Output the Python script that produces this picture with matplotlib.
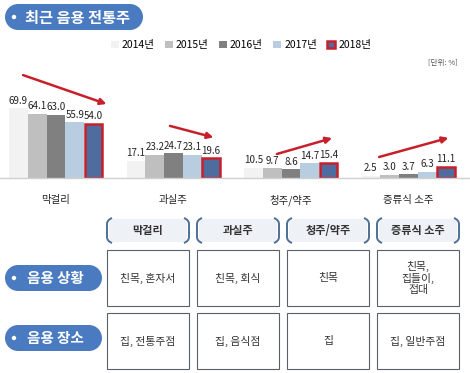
import matplotlib.pyplot as plt
from matplotlib.patches import FancyBboxPatch, Rectangle, Circle
from matplotlib.path import Path
from matplotlib.patches import PathPatch
import numpy as np

plt.rcParams['font.family'] = ['Noto Sans CJK KR', 'DejaVu Sans']

# data
years = ['2014년', '2015년', '2016년', '2017년', '2018년']
categories = ['막걸리', '과실주', '청주/약주', '증류식 소주']
values = {
    '2014년': [69.9, 17.1, 10.5, 2.5],
    '2015년': [64.1, 23.2, 9.7, 3.0],
    '2016년': [63.0, 24.7, 8.6, 3.7],
    '2017년': [55.9, 23.1, 14.7, 6.3],
    '2018년': [54.0, 19.6, 15.4, 11.1],
}
situations = ['친목, 혼자서', '친목, 회식', '친목', '친목,\n집들이,\n접대']
places = ['집, 전통주점', '집, 음식점', '집', '집, 일반주점']
row_labels = ['음용 상황', '음용 장소']

colors = ['#F2F2F2', '#BFBFBF', '#808080', '#B9CDE0', '#4E6C9E']
blue = '#4A7BC0'
red = '#C8202B'

W, H = 470, 373
fig = plt.figure(figsize=(W / 100, H / 100), dpi=100)

# bar chart axes (pixel frame: baseline y=178, top y=70)
ax = fig.add_axes([0, (H - 178) / H, 1, 108 / H])
gap = 117.5
ax.set_xlim(-56 / gap, (W - 56) / gap)
ax.set_ylim(0, 108)
bw = 18.8 / gap
x = np.arange(len(categories))
handles = []
for j, yr in enumerate(years):
    xs = x + (j - 2) * bw
    if j == 4:
        b = ax.bar(xs, values[yr], bw * 0.92, color=colors[j], edgecolor=red,
                   linewidth=1.8, label=yr)
    else:
        b = ax.bar(xs, values[yr], bw, color=colors[j], label=yr)
    handles.append(b)
    for xi, v in zip(xs, values[yr]):
        ax.text(xi, v + 2.5, f'{v:.1f}', ha='center', va='bottom', fontsize=7,
                color='#222222')

# trend arrows: (x start, rise above first bar, x end, rise above last bar)
arrows = [(-0.28, 33, 0.43, 20), (-0.03, 35, 0.34, 21),
          (-0.12, 13.5, 0.35, 24.5), (-0.25, 18.5, 0.34, 29)]
for i, (xs0, s, xe, e) in enumerate(arrows):
    y0 = values['2014년'][i] + s
    y1 = values['2018년'][i] + e
    ax.annotate('', xy=(i + xe, y1), xytext=(i + xs0, y0),
                arrowprops=dict(arrowstyle='-|>', color=red, lw=1.8,
                                mutation_scale=9, shrinkA=0, shrinkB=0))

ax.set_xticks(x)
ax.set_xticklabels(categories, fontsize=7.5, color='#222222')
ax.tick_params(axis='x', length=0, pad=12)
ax.set_yticks([])
for s in ['top', 'left', 'right']:
    ax.spines[s].set_visible(False)
ax.spines['bottom'].set_color('#D0D0D0')
ax.spines['bottom'].set_linewidth(1)
ax.patch.set_alpha(0)

fig.legend(handles=handles, labels=years, loc='center', ncol=5,
           bbox_to_anchor=(241 / W, 1 - 45 / H), frameon=False, fontsize=7.5,
           handlelength=0.75, handleheight=0.75, handletextpad=0.3,
           columnspacing=1.0, borderpad=0)
fig.text(458 / W, 1 - 63 / H, '[단위: %]', ha='right', va='center',
         fontsize=5.5, color='#555555')

# overlay axes in pixel coords for the title and table part
ov = fig.add_axes([0, 0, 1, 1], zorder=-1)
ov.set_xlim(0, W)
ov.set_ylim(H, 0)
ov.axis('off')


def pill(x0, y0, w, h, text, fs, tx):
    ov.add_patch(Rectangle((x0 + h / 2, y0), w - h, h, fc=blue, ec='none'))
    ov.add_patch(Circle((x0 + h / 2, y0 + h / 2), h / 2, fc=blue, ec='none'))
    ov.add_patch(Circle((x0 + w - h / 2, y0 + h / 2), h / 2, fc=blue, ec='none'))
    ov.add_patch(Circle((x0 + 9, y0 + h / 2), 2.2, fc='white', ec='none'))
    ov.text(x0 + tx, y0 + h / 2 + 0.5, text, ha='left', va='center',
            fontsize=fs, color='white', fontweight='bold')


pill(5, 4, 138, 26, '최근 음용 전통주', 11, 20)
pill(5, 265, 97, 26, row_labels[0], 10.5, 22)
pill(5, 325, 97, 26, row_labels[1], 10.5, 22)

col_x = [107, 197, 287, 377]
col_w = 82
bracket = '#4F6F96'
for i, cx in enumerate(col_x):
    # header with round brackets
    ov.add_patch(FancyBboxPatch((cx + 2, 219), col_w - 4, 23,
                                boxstyle='round,pad=0,rounding_size=4',
                                fc='#EEF1F5', ec='none'))
    yt, yb = 218, 243
    lp = Path([(cx + 5, yt), (cx, yt + 2), (cx, yt + 6), (cx, yb - 6),
               (cx, yb - 2), (cx + 5, yb)],
              [Path.MOVETO, Path.CURVE3, Path.CURVE3, Path.LINETO,
               Path.CURVE3, Path.CURVE3])
    rx = cx + col_w
    rp = Path([(rx - 5, yt), (rx, yt + 2), (rx, yt + 6), (rx, yb - 6),
               (rx, yb - 2), (rx - 5, yb)],
              [Path.MOVETO, Path.CURVE3, Path.CURVE3, Path.LINETO,
               Path.CURVE3, Path.CURVE3])
    for p in (lp, rp):
        ov.add_patch(PathPatch(p, fc='none', ec=bracket, lw=1.4))
    ov.text(cx + col_w / 2, 230.5, categories[i], ha='center', va='center',
            fontsize=8, fontweight='bold', color='#333333')

    # body cells
    for r, (y0, txt) in enumerate([(250, situations[i]), (313, places[i])]):
        ov.add_patch(Rectangle((cx, y0), col_w, 56, fc='white', ec='#5A6068',
                               lw=0.8))
        ov.text(cx + col_w / 2, y0 + 28, txt, ha='center', va='center',
                fontsize=7.8, color='#333333', linespacing=1.1)

fig.savefig('out.png', dpi=100)
